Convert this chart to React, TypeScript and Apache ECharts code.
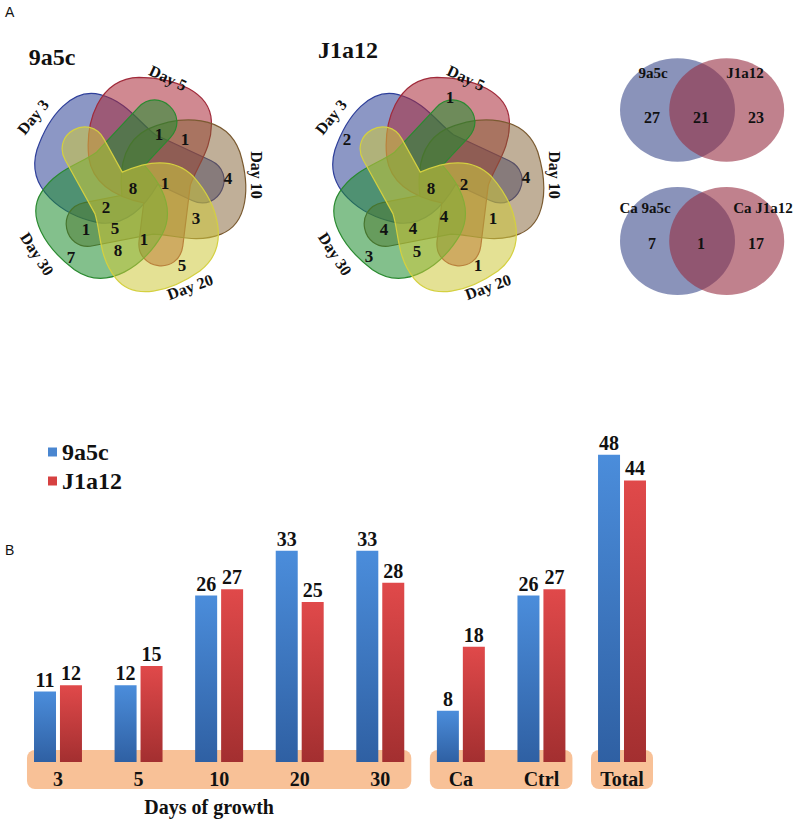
import React, { useEffect, useRef } from 'react';
import * as echarts from 'echarts';

// ---------- Data ----------
const categories = ['3', '5', '10', '20', '30', 'Ca', 'Ctrl', 'Total'];
const values9a5c = [11, 12, 26, 33, 33, 8, 26, 48];
const valuesJ1a12 = [12, 15, 27, 25, 28, 18, 27, 44];
const bandGroups = [[0, 4], [5, 6], [7, 7]];
const seriesNames = ['9a5c', 'J1a12'];

const vennSets = ['Day 3', 'Day 5', 'Day 10', 'Day 20', 'Day 30'];
const vennTitles = ['9a5c', 'J1a12'];
const venn9a5cCounts = [1, 1, 4, 8, 1, 2, 3, 1, 5, 1, 8, 7, 5];
const vennJ1a12Counts = [1, 2, 4, 8, 2, 4, 1, 4, 4, 5, 3, 1];
const pairTopLabels = ['9a5c', 'J1a12'];
const pairTopCounts = [27, 21, 23];
const pairBottomLabels = ['Ca 9a5c', 'Ca J1a12'];
const pairBottomCounts = [7, 1, 17];

// ---------- Layout ----------
const SERIF = 'Liberation Serif';
const SANS = 'Liberation Sans';
const vennCenters = [[138, 184], [436, 184]];
const vennRot = [-65, 7, 79, 151, 223];
const vennZ = [1, 2, 3, 5, 4];
const vennFill = [
  'rgba(45,65,150,0.55)',
  'rgba(170,40,55,0.55)',
  'rgba(130,95,50,0.5)',
  'rgba(205,200,60,0.55)',
  'rgba(30,140,45,0.55)',
];
const vennStroke = ['#2e3f9a', '#a02a3a', '#7a5a30', '#d4d040', '#2a8a30'];
const dayLabelPos = [[-105, -67, 51], [30, -106, -25], [118, -9, -90], [52, 103, 20], [-101, 70, -57]];
const pos9a5c = [[159, 134], [185, 139], [228, 178], [133, 188], [165, 183], [106, 207], [196, 218], [86, 229], [115, 228], [144, 239], [118, 250], [71, 257], [182, 265]];
const posJ1a12 = [[450, 97], [347, 139], [526, 177], [431, 188], [464, 184], [444, 216], [493, 218], [384, 229], [413, 228], [417, 251], [369, 256], [478, 265]];
const titlePos = [[52, 57], [348, 50]];

const VENN_PATH =
  'M8,18 C-15,16 -44,8 -52,-20 C-60,-55 -52,-100 -12,-106 C25,-110 60,-100 65,-72 C70,-45 56,-25 52,-5 L52,56 C52,86 8,86 8,56 Z';

let registered = false;
function ensureShape() {
  if (registered) return;
  echarts.graphic.registerShape('vennPetal', echarts.graphic.extendPath(VENN_PATH, {}));
  registered = true;
}

function txt(text: string, x: number, y: number, size: number, opts: any = {}) {
  return {
    type: 'text',
    x,
    y,
    rotation: opts.rot ? (opts.rot * Math.PI) / 180 : 0,
    z: 10,
    style: {
      text,
      x: 0,
      y: 0,
      font: `${opts.weight || 'bold'} ${size}px "${opts.family || SERIF}"`,
      fill: opts.color || '#111',
      textAlign: opts.align || 'center',
      textVerticalAlign: 'middle',
    },
  };
}

export default function App() {
  const ref = useRef<HTMLDivElement>(null);
  useEffect(() => {
    ensureShape();
    const chart = echarts.init(ref.current!, null, { renderer: 'svg' });
    const labelStyle = {
      show: true,
      position: 'top',
      distance: 2,
      fontFamily: SERIF,
      fontWeight: 'bold',
      fontSize: 20,
      color: '#111',
    };
    const legendText = { fontFamily: SERIF, fontWeight: 'bold', fontSize: 24, color: '#111' };
    chart.setOption({
      animation: false,
      backgroundColor: '#fff',
      grid: { left: 17.7, right: 137.7, top: 442, bottom: 61, containLabel: false },
      legend: {
        orient: 'vertical',
        left: 43,
        top: 435,
        itemWidth: 9,
        itemHeight: 9,
        itemGap: 5,
        icon: 'rect',
        textStyle: legendText,
        data: [
          { name: seriesNames[0], itemStyle: { color: '#4a86d0' } },
          { name: seriesNames[1], itemStyle: { color: '#d64141' } },
        ],
      },
      xAxis: {
        type: 'category',
        data: categories,
        axisLine: { show: false },
        axisTick: { show: false },
        axisLabel: { margin: 7, fontFamily: SERIF, fontWeight: 'bold', fontSize: 20, color: '#111' },
      },
      yAxis: { type: 'value', min: 0, max: 50, show: false, splitLine: { show: false } },
      series: [
        {
          name: seriesNames[0],
          type: 'bar',
          data: values9a5c,
          barWidth: 22,
          barGap: '18%',
          z: 3,
          itemStyle: {
            color: new echarts.graphic.LinearGradient(0, 0, 0, 1, [
              { offset: 0, color: '#4b8ddb' },
              { offset: 1, color: '#2f60a3' },
            ]),
          },
          label: labelStyle,
        },
        {
          name: seriesNames[1],
          type: 'bar',
          data: valuesJ1a12,
          barWidth: 22,
          z: 3,
          itemStyle: {
            color: new echarts.graphic.LinearGradient(0, 0, 0, 1, [
              { offset: 0, color: '#e0494a' },
              { offset: 1, color: '#a32f30' },
            ]),
          },
          label: labelStyle,
        },
      ],
    });

    const px = (i: number) => chart.convertToPixel({ xAxisIndex: 0 }, i) as number;
    const y0 = chart.convertToPixel({ yAxisIndex: 0 }, 0) as number;

    const els: any[] = [];
    bandGroups.forEach(([a, b]) => {
      els.push({
        type: 'rect',
        z: 0,
        shape: { x: px(a) - 31, y: y0 - 12, width: px(b) - px(a) + 62, height: 39, r: 8 },
        style: { fill: '#f8c197' },
      });
    });
    els.push(txt('Days of growth', (px(0) + px(4)) / 2 - 10, y0 + 45, 20));

    vennCenters.forEach(([cx, cy], vi) => {
      vennSets.forEach((_, si) => {
        els.push({
          type: 'vennPetal',
          x: cx,
          y: cy,
          rotation: (-vennRot[si] * Math.PI) / 180,
          z: vennZ[si],
          style: { fill: vennFill[si], stroke: vennStroke[si], lineWidth: 1.2 },
        });
        const [dx, dy, r] = dayLabelPos[si];
        els.push(txt(vennSets[si], cx + dx, cy + dy, 16, { rot: r }));
      });
      els.push(txt(vennTitles[vi], titlePos[vi][0], titlePos[vi][1], 24));
    });
    venn9a5cCounts.forEach((v, i) => els.push(txt(String(v), pos9a5c[i][0], pos9a5c[i][1], 17)));
    vennJ1a12Counts.forEach((v, i) => els.push(txt(String(v), posJ1a12[i][0], posJ1a12[i][1], 17)));

    const pairs = [
      { cy: 110, ry: 51.7, labels: pairTopLabels, counts: pairTopCounts, ly: 73, ny: 117, lx: [653, 745] },
      { cy: 241, ry: 54, labels: pairBottomLabels, counts: pairBottomCounts, ly: 208, ny: 243, lx: [645, 763] },
    ];
    pairs.forEach((p) => {
      els.push({ type: 'ellipse', z: 1, shape: { cx: 677.5, cy: p.cy, rx: 57.5, ry: p.ry }, style: { fill: 'rgba(60,75,140,0.6)' } });
      els.push({ type: 'ellipse', z: 2, shape: { cx: 726.7, cy: p.cy, rx: 57.5, ry: p.ry }, style: { fill: 'rgba(150,45,65,0.6)' } });
      els.push(txt(p.labels[0], p.lx[0], p.ly, 15));
      els.push(txt(p.labels[1], p.lx[1], p.ly, 15));
      els.push(txt(String(p.counts[0]), 652, p.ny, 16));
      els.push(txt(String(p.counts[1]), 701, p.ny, 16));
      els.push(txt(String(p.counts[2]), 756, p.ny, 16));
    });

    els.push(txt('A', 5, 12, 14, { family: SANS, weight: 'normal', align: 'left' }));
    els.push(txt('B', 5, 550, 14, { family: SANS, weight: 'normal', align: 'left' }));

    chart.setOption({ graphic: { elements: els } });
    return () => chart.dispose();
  }, []);
  return <div ref={ref} style={{ position: 'fixed', left: 0, top: 0, width: 800, height: 823 }} />;
}
